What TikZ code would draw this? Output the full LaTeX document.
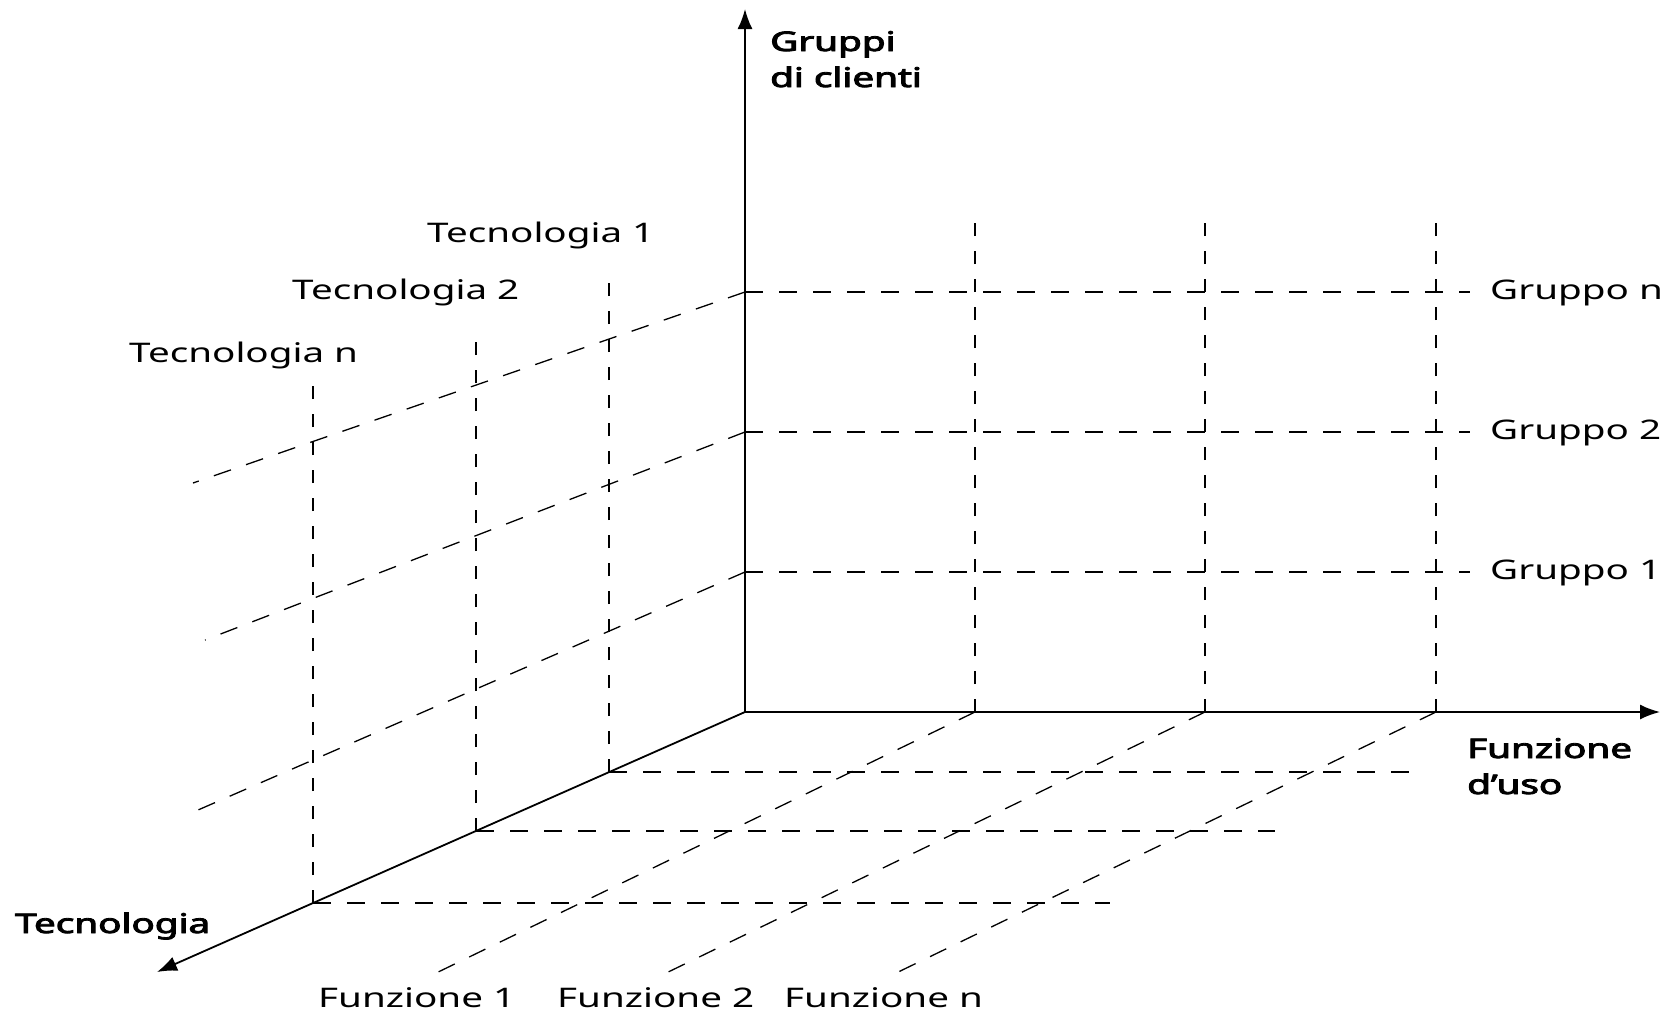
\documentclass[tikz,border=0pt]{standalone}
\usepackage{fontspec}
\setmainfont{Noto Sans}[BoldFont={Noto Sans},BoldFeatures={FakeBold=3}]
\usetikzlibrary{arrows.meta}
\newcommand{\wide}[1]{\scalebox{1.43}[1]{#1}}

\begin{document}
\begin{tikzpicture}[x=1pt,y=-1pt,
  axis/.style={line width=1.8pt,-{Latex[length=20pt,width=15pt]}},
  grid/.style={line width=1.3pt,dash pattern=on 18pt off 16pt},
  vgrid/.style={line width=1.3pt,dash pattern=on 13pt off 15pt},
  lab/.style={font=\fontsize{27}{36}\selectfont,inner sep=0pt,anchor=base west},
  title/.style={lab,font=\bfseries\fontsize{27}{36}\selectfont,align=left}]
  \useasboundingbox (0,0) rectangle (1666,1023);
  \coordinate (o) at (745,712);
  \coordinate (ytop) at (745,9);
  \coordinate (xend) at (1660,712);
  \coordinate (zend) at (157,972);

  \coordinate (g1) at (745,572);
  \coordinate (g2) at (745,432);
  \coordinate (gn) at (745,292);
  \coordinate (g1e) at (1470,572);
  \coordinate (g2e) at (1470,432);
  \coordinate (gne) at (1470,292);
  \coordinate (g1d) at (198,810);
  \coordinate (g2d) at (205,640);
  \coordinate (gnd) at (193,483);

  \coordinate (f1) at (975,712);
  \coordinate (f2) at (1205,712);
  \coordinate (fn) at (1436,712);
  \coordinate (f1t) at (975,218);
  \coordinate (f2t) at (1205,218);
  \coordinate (fnt) at (1436,218);
  \coordinate (f1d) at (432,975);
  \coordinate (f2d) at (662,975);
  \coordinate (fnd) at (892,975);

  \coordinate (t1) at (609,772);
  \coordinate (t2) at (476,831);
  \coordinate (tn) at (313,903);
  \coordinate (t1t) at (609,282);
  \coordinate (t2t) at (476,329);
  \coordinate (tnt) at (313,377);
  \coordinate (t1e) at (1411,772);
  \coordinate (t2e) at (1275,831);
  \coordinate (tne) at (1110,903);

  \draw[grid] (g1) -- (g1e);
  \draw[grid] (g2) -- (g2e);
  \draw[grid] (gn) -- (gne);
  \draw[grid] (g1) -- (g1d);
  \draw[grid] (g2) -- (g2d);
  \draw[grid] (gn) -- (gnd);

  \draw[vgrid] (f1) -- (f1t);
  \draw[vgrid] (f2) -- (f2t);
  \draw[vgrid] (fn) -- (fnt);
  \draw[grid] (f1) -- (f1d);
  \draw[grid] (f2) -- (f2d);
  \draw[grid] (fn) -- (fnd);

  \draw[vgrid] (t1) -- (t1t);
  \draw[vgrid] (t2) -- (t2t);
  \draw[vgrid] (tn) -- (tnt);
  \draw[grid] (t1) -- (t1e);
  \draw[grid] (t2) -- (t2e);
  \draw[grid] (tn) -- (tne);

  \draw[axis] (o) -- (ytop);
  \draw[axis] (o) -- (xend);
  \draw[axis] (o) -- (zend);

  \node[lab] (lgn) at (1490,299) {\wide{Gruppo n}};
  \node[lab] (lg2) at (1490,439) {\wide{Gruppo 2}};
  \node[lab] (lg1) at (1490,579) {\wide{Gruppo 1}};
  \node[lab] (lt1) at (427,242) {\wide{Tecnologia 1}};
  \node[lab] (lt2) at (292,299) {\wide{Tecnologia 2}};
  \node[lab] (ltn) at (129,362) {\wide{Tecnologia n}};
  \node[lab] (lf1) at (318,1007) {\wide{Funzione 1}};
  \node[lab] (lf2) at (557,1007) {\wide{Funzione 2}};
  \node[lab] (lfn) at (784,1007) {\wide{Funzione n}};
  \node[title] (ly) at (770,87) {\wide{Gruppi}\\\wide{di clienti}};
  \node[title] (lx) at (1467,794) {\wide{Funzione}\\\wide{d’uso}};
  \node[title] (lz) at (15,933) {\wide{Tecnologia}};
\end{tikzpicture}
\end{document}
